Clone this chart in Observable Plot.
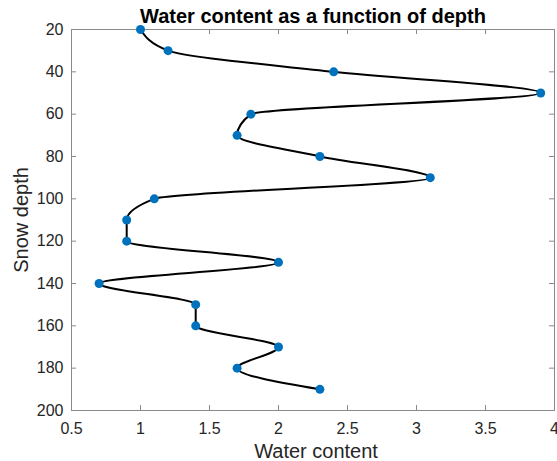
<!DOCTYPE html>
<html>
<head>
<meta charset="utf-8">
<script src="https://cdn.jsdelivr.net/npm/d3@7"></script>
<script src="https://cdn.jsdelivr.net/npm/@observablehq/plot@0.6"></script>
<style>
  html, body { margin: 0; padding: 0; background: #fff; }
  #chart svg { display: block; }
</style>
</head>
<body>
<div id="chart"></div>
<script>
const depth = [20, 30, 40, 50, 60, 70, 80, 90, 100, 110, 120, 130, 140, 150, 160, 170, 180, 190];
const water = [1.0, 1.2, 2.4, 3.9, 1.8, 1.7, 2.3, 3.1, 1.1, 0.9, 0.9, 2.0, 0.7, 1.4, 1.4, 2.0, 1.7, 2.3];
const xTicks = [0.5, 1, 1.5, 2, 2.5, 3, 3.5, 4];
const yTicks = [20, 40, 60, 80, 100, 120, 140, 160, 180, 200];
const title = "Water content as a function of depth";
const xLabel = "Water content";
const yLabel = "Snow depth";

const data = depth.map((d, i) => ({depth: d, water: water[i]}));

const W = 557, H = 461;
const mL = 71, mR = 3, mT = 29, mB = 51;
const innerW = W - mL - mR, innerH = H - mT - mB;
const tick = 5;
const axisColor = "#262626";
const frameColor = "#8a8a8a";

const chart = Plot.plot({
  width: W,
  height: H,
  marginLeft: mL,
  marginRight: mR,
  marginTop: mT,
  marginBottom: mB,
  style: {fontFamily: "'Liberation Sans', Arial, Helvetica, sans-serif", background: "#fff", overflow: "visible"},
  x: {domain: [0.5, 4], label: null},
  y: {domain: [20, 200], reverse: true, label: null},
  marks: [
    Plot.frame({stroke: frameColor, strokeWidth: 1}),
    // inward ticks on all four sides
    Plot.ruleX(xTicks, {x: d => d, insetTop: innerH - tick, stroke: frameColor}),
    Plot.ruleX(xTicks, {x: d => d, insetBottom: innerH - tick, stroke: frameColor}),
    Plot.ruleY(yTicks, {y: d => d, insetRight: innerW - tick, stroke: frameColor}),
    Plot.ruleY(yTicks, {y: d => d, insetLeft: innerW - tick, stroke: frameColor}),
    Plot.axisX({ticks: xTicks, tickSize: 0, tickPadding: 12, fontSize: 16, fill: axisColor, tickFormat: d => String(d), label: null}),
    Plot.axisY({ticks: yTicks, tickSize: 0, tickPadding: 8, fontSize: 16, fill: axisColor, tickFormat: d => String(d), label: null}),
    Plot.line(data, {x: "water", y: "depth", curve: "monotone-y", stroke: "#000", strokeWidth: 2}),
    Plot.dot(data, {x: "water", y: "depth", r: 4.5, fill: "#0072BD", stroke: null}),
    Plot.text([title], {frameAnchor: "top", textAnchor: "middle", lineAnchor: "bottom", dy: -7, fontSize: 20, fontWeight: "bold", fill: "#000"}),
    Plot.text([xLabel], {frameAnchor: "bottom", textAnchor: "middle", lineAnchor: "bottom", dy: 47, dx: 3, fontSize: 20, fill: axisColor, style: "letter-spacing:0.4px"}),
    Plot.text([yLabel], {frameAnchor: "left", textAnchor: "middle", lineAnchor: "middle", rotate: -90, dx: -50, dy: 0, fontSize: 20, fill: axisColor, style: "letter-spacing:0.4px"})
  ]
});
document.getElementById("chart").appendChild(chart);
</script>
</body>
</html>
